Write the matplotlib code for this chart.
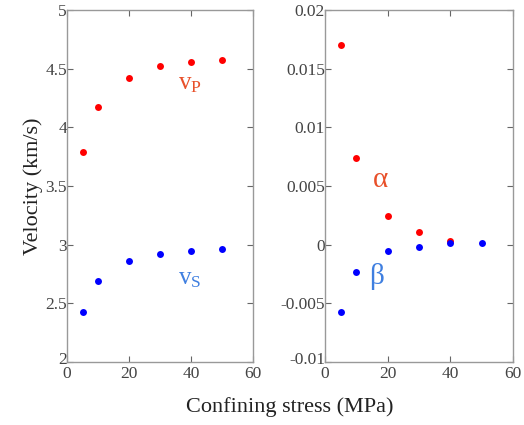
import matplotlib
matplotlib.use('Agg')
import numpy as np
from matplotlib import pyplot as plt
from matplotlib.transforms import ScaledTranslation

# data
stress = [5, 10, 20, 30, 40, 50]
vp = [3.79, 4.17, 4.42, 4.52, 4.56, 4.57]
vs = [2.43, 2.69, 2.86, 2.92, 2.95, 2.965]
stress_a = [5, 10, 20, 30, 40]
alpha = [0.0170, 0.00736, 0.00245, 0.00106, 0.00034]
stress_b = [5, 10, 20, 30, 40, 50]
beta = [-0.0057, -0.0023, -0.0005, -0.00022, 0.0001, 0.0001]

left_yticks = [2, 2.5, 3, 3.5, 4, 4.5, 5]
left_yticklabels = ['2', '2.5', '3', '3.5', '4', '4.5', '5']
right_yticks = [-0.01, -0.005, 0, 0.005, 0.01, 0.015, 0.02]
right_yticklabels = ['-0.01', '-0.005', '0', '0.005', '0.01', '0.015', '0.02']
xticks = [0, 20, 40, 60]

plt.rcParams['font.family'] = ['Liberation Serif', 'DejaVu Serif']
plt.rcParams['mathtext.fontset'] = 'custom'
plt.rcParams['mathtext.rm'] = 'Liberation Serif'
plt.rcParams['mathtext.it'] = 'Liberation Serif'

figw, figh = 524.0, 425.0
fig = plt.figure(figsize=(figw/100, figh/100), dpi=100)
ax1 = fig.add_axes([67/figw, 63/figh, 186/figw, 352/figh])
ax2 = fig.add_axes([325/figw, 63/figh, 188/figw, 352/figh])

red = '#ff0000'
blue = '#0000ff'
lred = '#e8502a'
lblue = '#3f7fe0'

for ax in (ax1, ax2):
    for sp in ax.spines.values():
        sp.set_color('#999999')
        sp.set_linewidth(1.0)
    ax.tick_params(direction='in', length=4, width=0.8, color='#666666',
                   labelsize=12.5, labelcolor='#444444', top=True, right=True)
    ax.tick_params(axis='y', pad=0)
    ax.tick_params(axis='x', pad=3)
    ax.set_xlim(0, 60)
    ax.set_xticks(xticks)

ax1.plot(stress, vp, 'o', color=red, ms=5, mec='none')
ax1.plot(stress, vs, 'o', color=blue, ms=5, mec='none')
ax1.set_ylim(2, 5)
ax1.set_yticks(left_yticks)
ax1.set_yticklabels(left_yticklabels)
ax1.set_ylabel('Velocity (km/s)', fontsize=16, color='#222222', labelpad=2)
ax1.text(178, 425-89, r'v$_\mathrm{P}$', transform=None, fontsize=18, color=lred)
ax1.text(178, 425-284, r'v$_\mathrm{S}$', transform=None, fontsize=18, color=lblue)

ax2.plot(stress_a, alpha, 'o', color=red, ms=5, mec='none')
ax2.plot(stress_b, beta, 'o', color=blue, ms=5, mec='none')
ax2.set_ylim(-0.01, 0.02)
ax2.set_yticks(right_yticks)
ax2.set_yticklabels(right_yticklabels)
ax2.text(373, 425-187, '\u03b1', transform=None, fontsize=21, color=lred)
ax2.text(369, 425-284, '\u03b2', transform=None, fontsize=21, color=lblue)

# nudge the bottom y labels up a little, away from the x "0"
for ax in (ax1, ax2):
    lab = ax.get_yticklabels()[0]
    lab.set_transform(lab.get_transform() + ScaledTranslation(0, 4/100, fig.dpi_scale_trans))

fig.text(0.5*(67+513)/figw, 8/figh, 'Confining stress (MPa)', ha='center',
         va='bottom', fontsize=16, color='#222222')

fig.savefig('out.png', dpi=100)
